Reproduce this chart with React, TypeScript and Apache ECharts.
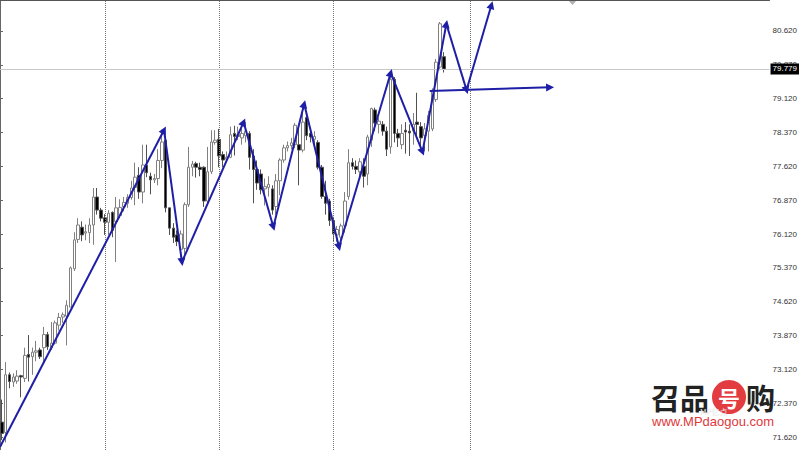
import React, { useEffect, useRef } from 'react';
import * as echarts from 'echarts';

// ---- data ----
const opens = [71.95, 71.72, 73.00, 72.84, 72.86, 72.98, 72.92, 73.45, 73.40, 73.50,
  73.55, 73.60, 73.89, 73.60, 73.70, 74.10, 74.28, 74.30, 74.50, 75.35,
  76.00, 76.27, 76.14, 76.15, 76.32, 76.94, 76.65, 76.48, 76.38, 76.60,
  76.40, 76.53, 76.72, 76.80, 76.93, 77.15, 77.42, 77.05, 77.65, 77.40,
  77.32, 77.35, 77.75, 78.20, 76.70, 76.25, 76.10, 75.78, 75.80, 76.77,
  77.60, 77.68, 77.60, 77.60, 76.85, 77.50, 78.15, 78.22, 77.88, 77.78,
  77.82, 78.35, 78.28, 78.25, 78.30, 78.35, 77.85, 77.55, 77.45, 77.12,
  77.15, 77.12, 76.73, 77.30, 77.76, 78.03, 78.08, 78.10, 78.10, 77.98,
  78.70, 78.35, 78.22, 78.15, 77.60, 76.95, 76.85, 76.42, 76.10, 76.05,
  76.30, 76.95, 77.70, 77.62, 77.50, 77.62, 77.45, 78.20, 78.87, 78.55,
  78.55, 78.40, 78.05, 79.55, 78.35, 78.10, 78.42, 78.40, 78.40, 78.60,
  78.50, 78.30, 78.40, 78.45, 79.10, 79.82, 80.05];

const closes = [71.70, 73.00, 72.85, 72.95, 72.97, 72.95, 73.43, 73.39, 73.50, 73.53,
  73.40, 73.89, 73.62, 73.70, 74.15, 74.27, 74.33, 74.54, 75.37, 75.99,
  76.32, 76.10, 76.17, 76.32, 76.94, 76.65, 76.47, 76.38, 76.58, 76.20,
  76.70, 76.71, 76.82, 76.93, 77.14, 77.38, 77.05, 77.65, 77.48, 77.32,
  77.35, 77.75, 78.16, 76.70, 76.25, 76.05, 75.95, 76.12, 76.77, 77.60,
  77.67, 77.60, 77.55, 76.85, 77.50, 78.16, 78.20, 77.85, 77.76, 77.82,
  78.32, 78.28, 78.32, 78.35, 78.40, 77.82, 77.55, 77.25, 77.10, 77.17,
  77.22, 76.65, 77.30, 77.76, 78.03, 78.08, 78.14, 78.53, 77.98, 78.60,
  78.30, 78.27, 78.28, 77.60, 76.95, 76.80, 76.42, 76.12, 76.22, 76.30,
  76.85, 77.70, 77.62, 77.55, 77.72, 77.40, 78.27, 78.90, 78.58, 78.62,
  78.40, 78.00, 79.55, 78.35, 78.25, 78.35, 78.38, 78.36, 78.55, 78.55,
  78.25, 78.45, 78.75, 79.30, 79.93, 80.78, 79.779];

const lows = [71.55, 71.50, 72.70, 72.73, 72.80, 72.50, 72.84, 72.85, 73.00, 73.30,
  73.35, 73.28, 73.55, 73.55, 73.67, 73.98, 74.15, 73.65, 74.50, 75.30,
  75.92, 75.96, 75.98, 75.92, 75.88, 76.55, 76.40, 76.10, 76.10, 76.05,
  75.50, 76.47, 76.62, 76.70, 76.88, 76.76, 76.90, 76.80, 77.38, 77.00,
  77.25, 77.20, 77.58, 76.60, 76.10, 75.92, 75.85, 75.60, 75.55, 76.72,
  77.40, 77.37, 77.40, 76.72, 76.77, 77.45, 78.10, 77.60, 77.60, 77.70,
  77.80, 77.86, 78.20, 78.10, 78.15, 77.55, 76.80, 77.10, 77.00, 76.75,
  76.95, 76.55, 76.55, 76.98, 77.70, 77.95, 78.00, 78.02, 77.20, 77.93,
  78.20, 78.15, 78.05, 77.55, 76.90, 76.55, 76.30, 75.95, 75.95, 75.85,
  76.15, 76.88, 77.55, 77.45, 77.40, 77.15, 77.20, 78.05, 78.40, 78.35,
  78.30, 77.85, 77.90, 78.15, 78.05, 78.00, 77.90, 77.85, 78.10, 78.30,
  78.05, 77.95, 77.95, 78.40, 79.05, 79.75, 79.70];

const highs = [72.45, 73.28, 73.05, 73.03, 73.10, 73.00, 73.60, 73.88, 73.60, 73.75,
  73.60, 74.06, 73.95, 74.17, 74.20, 74.37, 74.38, 74.65, 75.40, 76.16,
  76.47, 76.40, 76.33, 76.47, 77.14, 77.14, 76.70, 76.56, 76.65, 76.62,
  76.94, 76.89, 76.94, 77.00, 77.30, 77.70, 77.60, 78.10, 78.10, 77.48,
  77.45, 78.00, 78.43, 78.30, 76.70, 76.36, 76.20, 76.20, 76.82, 78.05,
  77.74, 77.72, 77.70, 77.62, 78.05, 78.42, 78.42, 78.45, 77.95, 77.95,
  78.50, 78.52, 78.50, 78.55, 78.60, 78.40, 78.00, 77.75, 77.55, 77.35,
  77.40, 77.20, 77.45, 77.80, 78.10, 78.17, 78.25, 78.58, 78.47, 78.95,
  78.85, 78.45, 78.40, 78.20, 77.65, 77.30, 76.90, 76.50, 76.30, 76.35,
  77.05, 78.00, 77.80, 77.75, 77.80, 77.80, 78.32, 78.92, 78.92, 78.70,
  78.62, 78.50, 79.65, 79.60, 78.45, 78.55, 78.60, 78.55, 78.80, 79.25,
  78.60, 78.58, 78.85, 79.35, 80.00, 80.82, 80.15];

const tickValues = [71.62, 72.37, 73.12, 73.87, 74.62, 75.37, 76.12, 76.87, 77.62, 78.37, 79.12, 79.87, 80.62];
const lastPrice = 79.779;
const separatorCandles = [27, 57, 87, 123];
const totalSlots = 202;
const priceMin = 71.332;
const priceMax = 81.307;

// zigzag arrows drawn on the chart (x in candle-index units, y in price)
const zigzagX = [-0.5, 42.56, 47.26, 63.44, 71.26, 79.35, 88.49, 102.06, 110.4, 116.67, 121.97, 128.5];
const zigzagY = [71.40, 78.425, 75.50, 78.60, 76.275, 79.00, 75.83, 79.69, 77.94, 80.775, 79.31, 81.196];
const flatArrowX = [112.3, 143.9];
const flatArrowY = [79.29, 79.372];

export default function App() {
  const ref = useRef<HTMLDivElement>(null);

  useEffect(() => {
    if (!ref.current) return;
    const chart = echarts.init(ref.current, null, { renderer: 'svg' });

    const categories = Array.from({ length: totalSlots }, (_, i) => String(i));
    const candleData = opens.map((o, i) => [o, closes[i], lows[i], highs[i]]);

    const segments: number[][][] = [];
    for (let i = 0; i < zigzagX.length - 1; i++) {
      segments.push([[zigzagX[i] + 0.5, zigzagY[i]], [zigzagX[i + 1] + 0.5, zigzagY[i + 1]]]);
    }
    segments.push([[flatArrowX[0] + 0.5, flatArrowY[0]], [flatArrowX[1] + 0.5, flatArrowY[1]]]);

    const option: any = {
      animation: false,
      backgroundColor: '#ffffff',
      grid: { left: 0, right: 26, top: 0, bottom: 0, containLabel: false },
      xAxis: [
        {
          type: 'category',
          data: categories,
          position: 'top',
          boundaryGap: true,
          axisLine: { show: true, lineStyle: { color: '#555', width: 1 } },
          axisTick: { show: false },
          axisLabel: { show: false },
          splitLine: { show: false },
        },
        {
          type: 'value',
          min: 0,
          max: totalSlots,
          show: false,
        },
      ],
      yAxis: {
        type: 'value',
        position: 'right',
        min: priceMin,
        max: priceMax,
        scale: true,
        axisLine: { show: true, lineStyle: { color: '#666', width: 1 } },
        axisTick: { show: true, length: 3, customValues: tickValues, lineStyle: { color: '#666' } },
        axisLabel: {
          show: true,
          customValues: tickValues,
          formatter: (v: number) => v.toFixed(3),
          color: '#333',
          fontSize: 8,
          fontFamily: 'Liberation Sans',
          margin: 3,
        },
        splitLine: { show: false },
      },
      series: [
        {
          type: 'candlestick',
          xAxisIndex: 0,
          yAxisIndex: 0,
          data: candleData,
          barWidth: 3,
          itemStyle: {
            color: '#ffffff',
            borderColor: '#808080',
            color0: '#000000',
            borderColor0: '#505050',
            borderWidth: 1,
          },
          markLine: {
            silent: true,
            symbol: ['none', 'none'],
            animation: false,
            data: [
              ...separatorCandles.map((c) => ({
                xAxis: String(c),
                lineStyle: { color: '#777', type: 'dotted', width: 1 },
                label: { show: false },
              })),
              {
                yAxis: lastPrice,
                lineStyle: { color: '#c8c8c8', type: 'solid', width: 1 },
                label: {
                  show: true,
                  position: 'end',
                  distance: 1,
                  formatter: lastPrice.toFixed(3),
                  backgroundColor: '#000',
                  color: '#fff',
                  fontSize: 8,
                  fontFamily: 'Liberation Sans',
                  padding: [2, 2, 1, 2],
                },
              },
            ],
          },
          z: 2,
        },
        {
          type: 'lines',
          coordinateSystem: 'cartesian2d',
          xAxisIndex: 1,
          yAxisIndex: 0,
          symbol: ['none', 'triangle'],
          symbolSize: [7, 8],
          lineStyle: { color: '#1e1ea6', width: 2, opacity: 1, curveness: 0 },
          itemStyle: { color: '#1e1ea6' },
          data: segments.map((s) => ({ coords: s })),
          z: 5,
        },
      ],
      graphic: [
        {
          type: 'polygon',
          shape: { points: [[568, 0], [577, 0], [572.5, 5]] },
          style: { fill: '#b0b0b0' },
        },
        {
          type: 'text',
          x: 651,
          y: 397,
          style: {
            text: '召品',
            fill: '#222',
            font: 'bold 29px "Noto Sans CJK SC"',
            textVerticalAlign: 'middle',
          },
        },
        {
          type: 'circle',
          shape: { cx: 729, cy: 397, r: 17 },
          style: { fill: '#e23b40' },
        },
        {
          type: 'text',
          x: 729,
          y: 397,
          style: {
            text: '号',
            fill: '#fff',
            font: 'bold 22px "Noto Sans CJK SC"',
            textAlign: 'center',
            textVerticalAlign: 'middle',
          },
        },
        {
          type: 'text',
          x: 746,
          y: 397,
          style: {
            text: '购',
            fill: '#222',
            font: 'bold 29px "Noto Sans CJK SC"',
            textVerticalAlign: 'middle',
          },
        },
        {
          type: 'text',
          x: 700,
          y: 411,
          style: {
            text: 'MP亿点',
            fill: '#e4e4e4',
            font: '8px "Noto Sans CJK SC"',
            textVerticalAlign: 'middle',
          },
        },
        {
          type: 'text',
          x: 652,
          y: 421,
          style: {
            text: 'www.MPdaogou.com',
            fill: '#e0383c',
            font: '13px "Liberation Sans"',
            textVerticalAlign: 'middle',
          },
        },
      ],
    };

    chart.setOption(option);
    return () => chart.dispose();
  }, []);

  return (
    <div
      ref={ref}
      style={{ position: 'fixed', left: 0, top: 0, width: 800, height: 450, background: '#fff' }}
    />
  );
}
